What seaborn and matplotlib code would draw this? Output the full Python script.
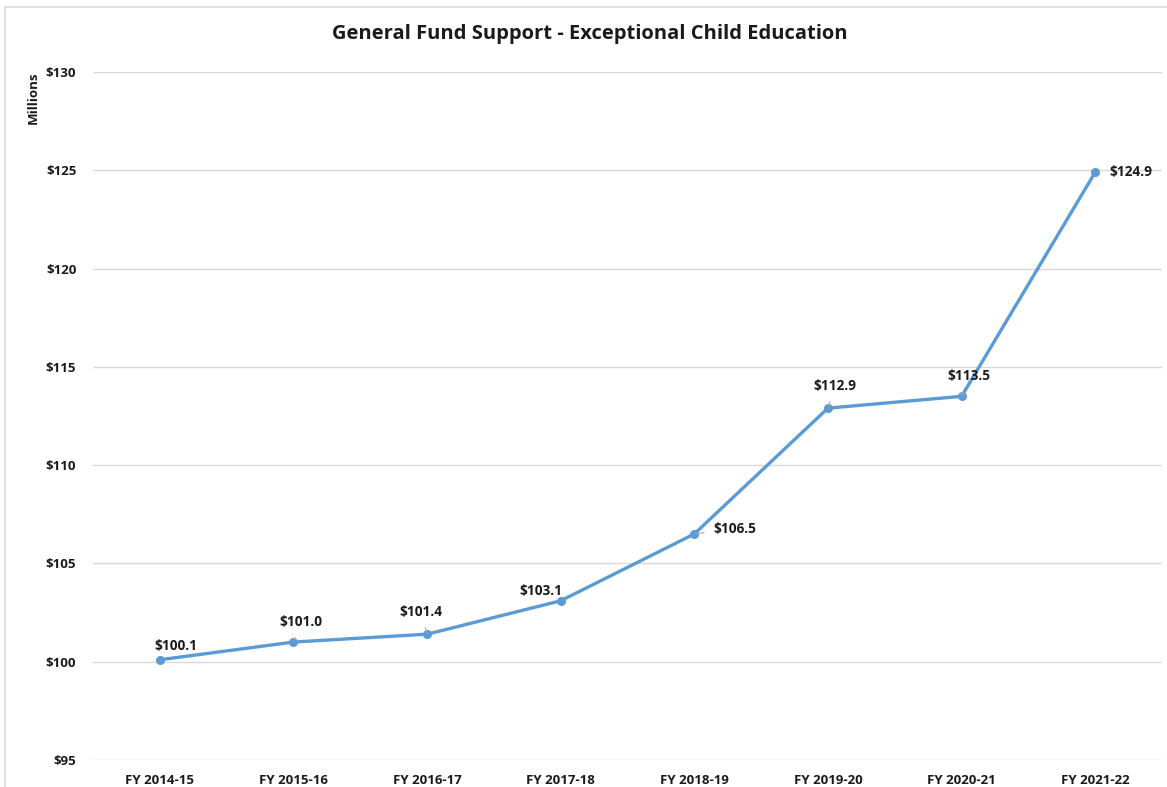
import matplotlib
matplotlib.use("Agg")
import matplotlib.pyplot as plt
import seaborn as sns
import pandas as pd
from matplotlib.patches import Rectangle

years = ["FY 2014-15", "FY 2015-16", "FY 2016-17", "FY 2017-18",
         "FY 2018-19", "FY 2019-20", "FY 2020-21", "FY 2021-22"]
support = [100.1, 101.0, 101.4, 103.1, 106.5, 112.9, 113.5, 124.9]
y_ticks = [95, 100, 105, 110, 115, 120, 125, 130]

# label offsets in pixels relative to each point, and whether a leader line is drawn
label_offsets = [(16, 14), (7, 20), (-6, 22), (-20, 10), (40, 5), (7, 22), (7, 20), (36, 0)]
leaders = [False, True, True, False, True, True, True, False]

sns.set_theme(style="white")
plt.rcParams["font.family"] = ["Open Sans", "DejaVu Sans"]

W, H = 1167, 787
fig = plt.figure(figsize=(W / 100, H / 100), dpi=100)
ax = fig.add_axes([93 / W, 1 - 760 / H, (1162 - 93) / W, (760 - 72) / H])

df = pd.DataFrame({"year": years, "support": support})
sns.lineplot(data=df, x="year", y="support", ax=ax, color="#5B9BD5",
             linewidth=2.4, marker="o", markersize=6.5, markeredgewidth=0,
             sort=False)

ax.set_xlim(-0.5, len(years) - 0.5)
ax.set_ylim(95, 130)
ax.set_yticks(y_ticks)
ax.set_yticklabels([f"${v}" for v in y_ticks], fontsize=9.5, fontweight="bold",
                   color="#1a1a1a")
ax.set_xticks(range(len(years)))
ax.set_xticklabels(years, fontsize=9.5, fontweight="bold", color="#1a1a1a")
ax.tick_params(axis="y", length=0, pad=12)
ax.tick_params(axis="x", length=0, pad=10)
ax.set_xlabel("")
ax.set_ylabel("")
ax.yaxis.grid(True, color="#D9D9D9", linewidth=1)
ax.set_axisbelow(True)
for s in ax.spines.values():
    s.set_visible(False)

for i, (v, (dx, dy), lead) in enumerate(zip(support, label_offsets, leaders)):
    ax.annotate(f"${v:.1f}", xy=(i, v), xytext=(dx, dy), textcoords="offset pixels",
                ha="center", va="center", fontsize=9.8, fontweight="bold",
                color="#1a1a1a",
                arrowprops=dict(arrowstyle="-", color="#A6A6A6", lw=0.8,
                                shrinkA=4, shrinkB=1) if lead else None)

fig.text(590 / W, 1 - 34 / H, "General Fund Support - Exceptional Child Education",
         ha="center", va="center", fontsize=14.5, fontweight="bold", color="#1a1a1a")
fig.text(33 / W, 1 - 98 / H, "Millions", rotation=90, ha="center", va="center",
         fontsize=9.5, fontweight="bold", color="#1a1a1a")

# outer chart frame
fig.patches.append(Rectangle((5 / W, -0.05), 1.2, 1 - 7 / H + 0.05,
                             transform=fig.transFigure, fill=False,
                             edgecolor="#D9D9D9", linewidth=1.2))

fig.savefig("out.png", dpi=100, facecolor="white")
